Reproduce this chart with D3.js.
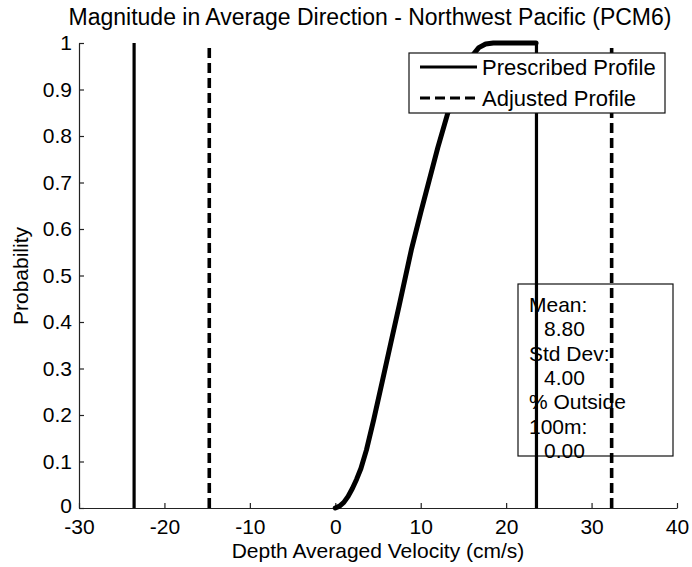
<!DOCTYPE html>
<html>
<head>
<meta charset="utf-8">
<script src="https://cdn.jsdelivr.net/npm/d3@7"></script>
<style>
  html, body { margin: 0; padding: 0; background: #fff; }
  svg { display: block; font-family: "Liberation Sans", Arial, Helvetica, sans-serif; }
</style>
</head>
<body>
<svg id="chart" width="692" height="567"></svg>
<script>
// Cumulative probability of depth-averaged velocity (cm/s)
const velocity = [0, 0.5, 1, 1.5, 2, 2.5, 3, 3.65, 4.5, 5.5, 6.5, 7.5, 8.9, 10, 11, 12, 13.1, 14, 15, 16, 16.8, 17.6, 18.5, 23.5];
const probability = [0, 0.004, 0.012, 0.025, 0.042, 0.062, 0.085, 0.125, 0.19, 0.272, 0.355, 0.437, 0.555, 0.635, 0.705, 0.775, 0.845, 0.895, 0.94, 0.972, 0.99, 0.998, 1, 1];

// Profile bounds (cm/s)
const prescribedBounds = [-23.55, 23.55];
const adjustedBounds = [-14.75, 32.35];

// Axis ticks
const xTicks = [-30, -20, -10, 0, 10, 20, 30, 40];
const xTickLabels = ["-30", "-20", "-10", "0", "10", "20", "30", "40"];
const yTicks = [0, 0.1, 0.2, 0.3, 0.4, 0.5, 0.6, 0.7, 0.8, 0.9, 1];
const yTickLabels = ["0", "0.1", "0.2", "0.3", "0.4", "0.5", "0.6", "0.7", "0.8", "0.9", "1"];

// Summary statistics
const statLabels = ["Mean:", "Std Dev:", "% Outside\n100m:"];
const statValues = [8.80, 4.00, 0.00];

const legendLabels = ["Prescribed Profile", "Adjusted Profile"];

const FONT = 21;
const svg = d3.select("#chart");
const x = d3.scaleLinear().domain([-30, 40]).range([79, 677]);
const y = d3.scaleLinear().domain([0, 1]).range([508, 43]);

// Axes (box off, ticks pointing inward)
const xAxis = d3.axisBottom(x).tickValues(xTicks)
  .tickFormat((d, i) => xTickLabels[i]).tickSizeInner(-5).tickSizeOuter(0).tickPadding(11);
const yAxis = d3.axisLeft(y).tickValues(yTicks)
  .tickFormat((d, i) => yTickLabels[i]).tickSizeInner(-5).tickSizeOuter(0).tickPadding(7);

const gx = svg.append("g").attr("transform", `translate(0,${y(0)})`).call(xAxis);
const gy = svg.append("g").attr("transform", `translate(${x(-30)},0)`).call(yAxis);
[gx, gy].forEach(g => {
  g.selectAll("text").attr("font-size", FONT).attr("fill", "#000").attr("font-family", null);
  g.selectAll("line, path").attr("stroke", "#222").attr("stroke-width", 1.2);
});
gy.selectAll(".tick text").filter(d => d === 0).attr("dy", "0.2em");

// Statistics text box (drawn beneath the profile lines)
const box = svg.append("g");
box.append("rect").attr("x", 518).attr("y", 284).attr("width", 155).attr("height", 172)
  .attr("fill", "#fff").attr("stroke", "#111").attr("stroke-width", 1.2);
const statLines = [];
statLabels.forEach((lab, i) => {
  lab.split("\n").forEach(s => statLines.push({ t: s, indent: false }));
  statLines.push({ t: statValues[i].toFixed(2), indent: true });
});
box.selectAll("text.stat").data(statLines).join("text")
  .attr("class", "stat")
  .attr("x", d => d.indent ? 544 : 529)
  .attr("y", (d, i) => 312 + i * 24.3)
  .attr("font-size", FONT)
  .text(d => d.t);

// CDF curve
const cdf = velocity.map((v, i) => [v, probability[i]]);
svg.append("path").datum(cdf)
  .attr("d", d3.line().x(d => x(d[0])).y(d => y(d[1])))
  .attr("fill", "none").attr("stroke", "#000").attr("stroke-width", 5)
  .attr("stroke-linejoin", "round").attr("stroke-linecap", "round");

// Profile bounds
prescribedBounds.forEach(b => {
  svg.append("line").attr("x1", x(b)).attr("x2", x(b)).attr("y1", y(0)).attr("y2", y(1))
    .attr("stroke", "#000").attr("stroke-width", 3.2);
});
adjustedBounds.forEach(b => {
  svg.append("line").attr("x1", x(b)).attr("x2", x(b)).attr("y1", y(0)).attr("y2", y(1))
    .attr("stroke", "#000").attr("stroke-width", 3.6).attr("stroke-dasharray", "10,5");
});

// Legend
const lg = svg.append("g");
lg.append("rect").attr("x", 409).attr("y", 53).attr("width", 256).attr("height", 60)
  .attr("fill", "#fff").attr("stroke", "#111").attr("stroke-width", 1.2);
legendLabels.forEach((lab, i) => {
  const ly = 67 + i * 31;
  lg.append("line").attr("x1", 420).attr("x2", 477).attr("y1", ly).attr("y2", ly)
    .attr("stroke", "#000").attr("stroke-width", 3.2)
    .attr("stroke-dasharray", i === 1 ? "10,5" : null);
  lg.append("text").attr("x", 482).attr("y", ly).attr("dy", "0.35em")
    .attr("font-size", 22).text(lab);
});

// Title and axis labels
svg.append("text").attr("x", 370).attr("y", 25).attr("text-anchor", "middle")
  .attr("font-size", 23).text("Magnitude in Average Direction - Northwest Pacific (PCM6)");
svg.append("text").attr("x", 378).attr("y", 558).attr("text-anchor", "middle")
  .attr("font-size", FONT).text("Depth Averaged Velocity (cm/s)");
svg.append("text").attr("transform", "translate(28,276) rotate(-90)").attr("text-anchor", "middle")
  .attr("font-size", FONT).text("Probability");
</script>
</body>
</html>
